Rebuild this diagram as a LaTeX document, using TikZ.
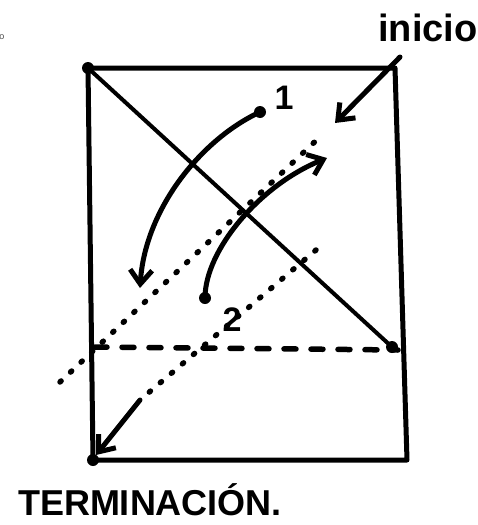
\documentclass[tikz,border=0pt]{standalone}
\usepackage{fontspec}
\setmainfont{Liberation Sans}
\usetikzlibrary{arrows.meta}
\begin{document}
\begin{tikzpicture}[x=1pt,y=-1pt,
  ink/.style={line width=5pt,line cap=round,line join=round,black},
  thinink/.style={line width=4pt,line cap=round,black},
  dots/.style={line width=5.5pt,line cap=round,dash pattern=on 1.5pt off 13pt,black},
  dashdot/.style={line width=5.5pt,line cap=round,dash pattern=on 12pt off 15pt,black},
  barb/.style={-{Straight Barb[length=14pt,width=22pt,line width=5pt]}},
  blob/.style={circle,fill=black,inner sep=0pt,minimum size=12pt},
  lbl/.style={inner sep=0pt,font=\fontsize{34}{34}\selectfont\bfseries}
]
\useasboundingbox (0,0) rectangle (477,525);
% corners
\coordinate (TL) at (88,68);
\coordinate (TR) at (395,68);
\coordinate (BR) at (407,460);
\coordinate (BL) at (93,460);
\coordinate (D) at (392,347);
\coordinate (HL) at (95,347);
\coordinate (HR) at (398,350);
% rectangle
\draw[ink] (TL) -- (TR) -- (BR) -- (BL) -- cycle;
\fill (TL) circle (6pt);
\fill (BL) circle (6pt);
% diagonal
\draw[thinink] (TL) -- (D);
\fill (D) circle (6pt);
% dash-dot horizontal
\draw[dashdot] (HL) -- (HR);
% dotted diagonal (back)
\coordinate (A1) at (60,382);
\coordinate (A2) at (322,135);
\draw[dots] (A1) -- (A2);
% dotted then solid arrow to termination
\coordinate (B1) at (316,250);
\coordinate (B2) at (140,400);
\draw[dots] (B1) -- (B2);
\draw[ink,barb] (B2) -- (96,455);
% inicio arrow
\coordinate (I1) at (400,57);
\coordinate (I2) at (335,123);
\draw[ink,barb] (I1) -- (I2);
% curve 1
\node[blob] (p1) at (260,112) {};
\coordinate (e1) at (140,288);
\draw[ink,barb] (p1.center) .. controls (200,140) and (145,210) .. (e1);
% curve 2
\node[blob] (p2) at (205,298) {};
\coordinate (e2) at (327,158);
\draw[ink,barb] (p2.center) .. controls (205,250) and (260,185) .. (e2);
% labels
\node[lbl] (n1) at (284,98) {1};
\node[lbl] (n2) at (232,320) {2};
\node[inner sep=0pt,font=\fontsize{38}{38}\selectfont\bfseries] (ini) at (428,28) {inicio};
\node[inner sep=0pt,font=\fontsize{36}{36}\selectfont\bfseries] (term) at (150,500) {TERMINACIÓN.};
\node[inner sep=0pt,font=\fontsize{9}{9}\selectfont,text=black!70] (o) at (2,37) {o};
\end{tikzpicture}
\end{document}
